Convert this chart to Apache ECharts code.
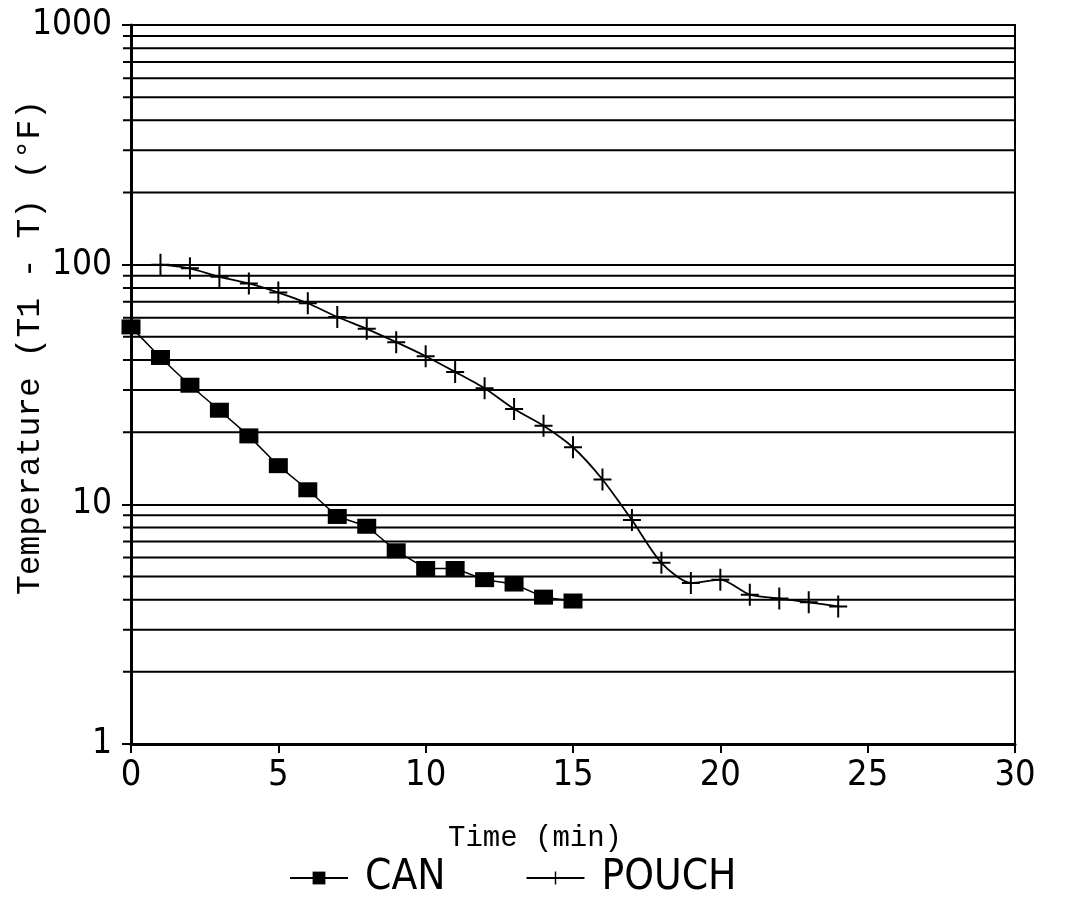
<!DOCTYPE html>
<html>
<head>
<meta charset="utf-8">
<script src="https://cdn.jsdelivr.net/npm/echarts@6/dist/echarts.min.js"></script>
<style>
  html, body { margin: 0; padding: 0; background: #fff; }
  #chart { width: 1078px; height: 915px; }
</style>
</head>
<body>
<div id="chart"></div>
<script>
// time (min)
var canTime = [0, 1, 2, 3, 4, 5, 6, 7, 8, 9, 10, 11, 12, 13, 14, 15]
var canTemp = [55, 41, 31.4, 24.7, 19.3, 14.5, 11.5, 8.9, 8.1, 6.4, 5.4, 5.4, 4.85, 4.65, 4.1, 3.95]

var pouchTime = [1, 2, 3, 4, 5, 6, 7, 8, 9, 10, 11, 12, 13, 14, 15, 16, 17, 18, 19, 20, 21, 22, 23, 24]
var pouchTemp = [100, 96.5, 89, 83.5, 76.5, 69, 60.5, 54, 47.5, 41.5, 35.7, 30.5, 25, 21.3, 17.3, 12.7, 8.6, 5.7, 4.7, 4.85, 4.2, 4.05, 3.9, 3.75]

// horizontal rules of the log paper
var gridValues = [2, 3, 4, 5, 6, 7, 8, 9, 20, 30, 40, 50, 60, 70, 80, 90, 200, 300, 400, 500, 600, 700, 800, 900]
var xTicks = [0, 5, 10, 15, 20, 25, 30]

var narrow = '"Liberation Sans Narrow", "DejaVu Sans Condensed", sans-serif'
var mono = '"Liberation Mono", "DejaVu Sans Mono", monospace'

function zip(a, b) {
  return a.map(function(v, i) { return [v, b[i]] })
}

var plusPath = 'path://M-1,-11H1V-1H9V1H1V11H-1V1H-9V-1H-1Z'

var chart = echarts.init(document.getElementById('chart'))
chart.setOption({
  backgroundColor: '#fff',
  animation: false,
  grid: {
    left: 131,
    right: 63,
    top: 25,
    bottom: 171,
    containLabel: false,
    outerBoundsMode: 'none',
    show: true,
    borderColor: '#000',
    borderWidth: 2,
    backgroundColor: 'transparent'
  },
  legend: {
    bottom: 11,
    left: 284,
    itemWidth: 58,
    itemHeight: 16,
    itemGap: 80,
    textStyle: {
      fontFamily: narrow,
      fontSize: 42,
      color: '#000',
      padding: [0, 0, 0, 12]
    },
    data: ['CAN', 'POUCH']
  },
  xAxis: {
    type: 'value',
    min: 0,
    max: 30,
    interval: 5,
    name: 'Time (min)',
    nameLocation: 'middle',
    nameGap: 80,
    nameMoveOverlap: false,
    nameTextStyle: {
      fontFamily: mono,
      fontSize: 29,
      color: '#000',
      padding: [0, 76, 0, 0]
    },
    axisLine: { lineStyle: { color: '#000', width: 3 } },
    axisTick: { length: 9, lineStyle: { color: '#000', width: 2 } },
    axisLabel: {
      fontFamily: narrow,
      fontSize: 36,
      color: '#000',
      margin: 14,
      customValues: xTicks
    },
    splitLine: { show: false }
  },
  yAxis: {
    type: 'log',
    logBase: 10,
    min: 1,
    max: 1000,
    name: 'Temperature (T1 - T) (°F)',
    nameLocation: 'middle',
    nameGap: 84,
    nameMoveOverlap: false,
    nameTextStyle: {
      fontFamily: mono,
      fontSize: 33,
      color: '#000',
      padding: [0, 0, 0, 74]
    },
    axisLine: { lineStyle: { color: '#000', width: 3 } },
    axisTick: { length: 9, lineStyle: { color: '#000', width: 2 } },
    axisLabel: {
      fontFamily: narrow,
      fontSize: 35,
      color: '#000',
      margin: 19,
      formatter: function(v) { return String(v) }
    },
    splitLine: { show: true, lineStyle: { color: '#000', width: 2 } }
  },
  series: [
    {
      type: 'custom',
      silent: true,
      z: 1,
      data: gridValues.map(function(v) { return [0, v] }),
      renderItem: function(params, api) {
        var cs = params.coordSys
        var y = api.coord([0, api.value(1)])[1]
        return {
          type: 'line',
          shape: { x1: cs.x - 8, y1: y, x2: cs.x + cs.width, y2: y },
          style: { stroke: '#000', lineWidth: 2 }
        }
      }
    },
    {
      name: 'CAN',
      type: 'line',
      z: 3,
      data: zip(canTime, canTemp),
      symbol: 'rect',
      symbolSize: [19, 15],
      lineStyle: { color: '#000', width: 1.5 },
      itemStyle: { color: '#000' }
    },
    {
      name: 'POUCH',
      type: 'line',
      z: 3,
      smooth: 0.25,
      data: zip(pouchTime, pouchTemp),
      symbol: plusPath,
      symbolSize: [18, 22],
      lineStyle: { color: '#000', width: 1.8 },
      itemStyle: { color: '#000' }
    }
  ]
})
</script>
</body>
</html>
